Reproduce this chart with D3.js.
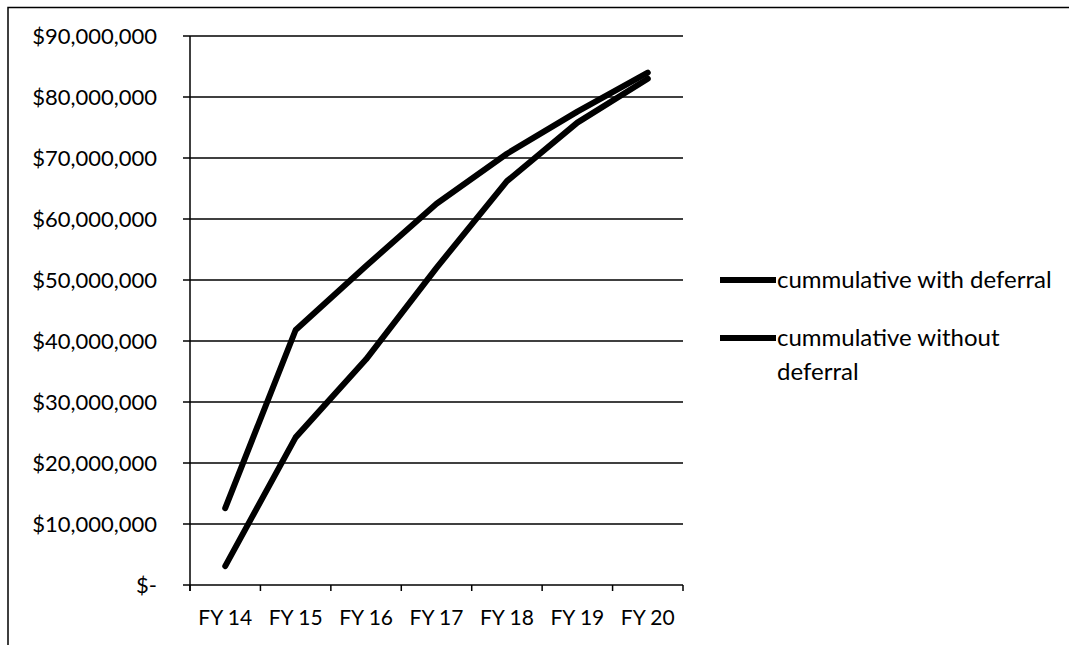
<!DOCTYPE html>
<html>
<head>
<meta charset="utf-8">
<script src="https://cdn.jsdelivr.net/npm/d3@7"></script>
<style>
  body { margin: 0; background: #fff; }
  svg { display: block; font-family: Lato, "Open Sans", sans-serif; }
  .grid line { stroke: #000; stroke-width: 1.5; }
  .series { fill: none; stroke: #000; stroke-width: 6; stroke-linejoin: round; stroke-linecap: round; }
</style>
</head>
<body>
<svg width="1069" height="645"></svg>
<script>
var years = ["FY 14", "FY 15", "FY 16", "FY 17", "FY 18", "FY 19", "FY 20"];
var withDeferral = [12600000, 41800000, 52300000, 62500000, 70700000, 77600000, 84000000];
var withoutDeferral = [3100000, 24200000, 37000000, 52000000, 66200000, 75800000, 83000000];
var yTicks = [0, 10000000, 20000000, 30000000, 40000000, 50000000, 60000000, 70000000, 80000000, 90000000];
var seriesNames = ["cummulative with deferral", "cummulative without deferral"];

var svg = d3.select("svg"),
    plotL = 190, plotR = 683, plotT = 36, plotB = 585;

// outer chart border (cut off at right and bottom)
svg.append("path")
    .attr("d", "M8,660 L8,7.5 L1080,7.5")
    .attr("fill", "none")
    .attr("stroke", "#000")
    .attr("stroke-width", 1.5);

var x = d3.scaleBand().domain(years).range([plotL, plotR]);
var y = d3.scaleLinear().domain([0, 90000000]).range([plotB, plotT]);

var fmt = function(d) { return d === 0 ? "$-" : "$" + d3.format(",")(d); };

// gridlines + y labels
var g = svg.append("g").attr("class", "grid");
g.selectAll("line.h").data(yTicks).enter().append("line")
    .attr("x1", plotL - 7).attr("x2", plotR)
    .attr("y1", function(d) { return y(d); })
    .attr("y2", function(d) { return y(d); });
g.selectAll("text").data(yTicks).enter().append("text")
    .attr("x", 157)
    .attr("y", function(d) { return y(d); })
    .attr("dy", "0.36em")
    .attr("text-anchor", "end")
    .attr("font-size", 22)
    .text(fmt);

// y axis line
g.append("line").attr("x1", plotL).attr("x2", plotL).attr("y1", plotT).attr("y2", plotB + 6);

// x ticks at band edges
var edges = years.map(function(d) { return x(d); }).concat([plotR]);
g.selectAll("line.t").data(edges).enter().append("line")
    .attr("x1", function(d) { return d; }).attr("x2", function(d) { return d; })
    .attr("y1", plotB).attr("y2", plotB + 6);

svg.append("g").selectAll("text").data(years).enter().append("text")
    .attr("x", function(d) { return x(d) + x.bandwidth() / 2; })
    .attr("y", 625)
    .attr("text-anchor", "middle")
    .attr("font-size", 21)
    .text(function(d) { return d; });

var line = d3.line()
    .x(function(d, i) { return x(years[i]) + x.bandwidth() / 2; })
    .y(function(d) { return y(d); });

svg.append("path").attr("class", "series").attr("d", line(withoutDeferral));
svg.append("path").attr("class", "series").attr("d", line(withDeferral));

// legend
var leg = svg.append("g").attr("font-size", 24);
leg.append("line").attr("x1", 720).attr("x2", 776).attr("y1", 280).attr("y2", 280)
    .attr("stroke", "#000").attr("stroke-width", 6);
leg.append("text").attr("x", 777).attr("y", 288).text(seriesNames[0]);
leg.append("line").attr("x1", 720).attr("x2", 776).attr("y1", 338).attr("y2", 338)
    .attr("stroke", "#000").attr("stroke-width", 6);
leg.append("text").attr("x", 777).attr("y", 346).text("cummulative without");
leg.append("text").attr("x", 777).attr("y", 380).text("deferral");
</script>
</body>
</html>
